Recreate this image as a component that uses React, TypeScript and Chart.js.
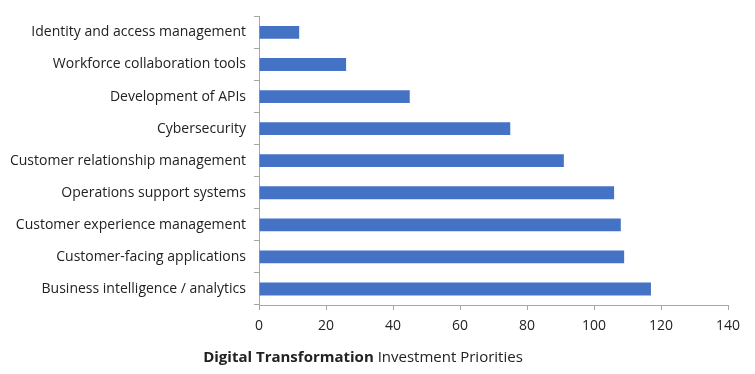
import React, { useEffect, useRef } from "react";
import { Chart, registerables } from "chart.js";

Chart.register(...registerables);

const categories = [
  "Identity and access management",
  "Workforce collaboration tools",
  "Development of APIs",
  "Cybersecurity",
  "Customer relationship management",
  "Operations support systems",
  "Customer experience management",
  "Customer-facing applications",
  "Business intelligence / analytics",
];
const values = [12, 26, 45, 75, 91, 106, 108, 109, 117];
const xMin = 0;
const xMax = 140;
const xStep = 20;

const FONT = "'Open Sans', sans-serif";

export default function App() {
  const ref = useRef<HTMLCanvasElement>(null);
  useEffect(() => {
    const ctx = ref.current!.getContext("2d")!;
    const chart = new Chart(ctx, {
      type: "bar",
      data: {
        labels: categories,
        datasets: [
          {
            data: values,
            backgroundColor: "#4472C4",
            borderWidth: 0,
            barPercentage: 0.8,
            categoryPercentage: 0.5,
          },
        ],
      },
      options: {
        indexAxis: "y",
        responsive: false,
        animation: false,
        layout: { padding: { left: 0, right: 27, top: 15, bottom: 0 } },
        plugins: { legend: { display: false }, tooltip: { enabled: false }, title: { display: false } },
        scales: {
          x: {
            min: xMin,
            max: xMax,
            ticks: { stepSize: xStep, color: "#222222", font: { family: FONT, size: 14 }, padding: 8 },
            grid: { display: true, drawOnChartArea: false, drawTicks: true, tickLength: 5, color: "#a6a6a6" },
            border: { display: true, color: "#a6a6a6" },
            afterFit: (s: any) => { s.height = 69; },
          },
          y: {
            ticks: { color: "#222222", font: { family: FONT, size: 14 }, padding: 8 },
            grid: { display: true, drawOnChartArea: false, drawTicks: true, tickLength: 5, color: "#a6a6a6", offset: true },
            border: { display: true, color: "#a6a6a6" },
            afterFit: (s: any) => { s.width = 259; },
          },
        },
      },
    });
    return () => chart.destroy();
  }, []);
  return (
    <div style={{ position: "fixed", left: 0, top: 0, width: 755, height: 374, background: "#fff" }}>
      <canvas ref={ref} width={755} height={374} style={{ display: "block" }} />
      <div
        style={{
          position: "absolute",
          left: 0,
          width: 726,
          top: 346,
          textAlign: "center",
          fontFamily: FONT,
          fontSize: 15,
          color: "#222222",
          whiteSpace: "nowrap",
        }}
      >
        <b>Digital Transformation</b> Investment Priorities
      </div>
    </div>
  );
}
